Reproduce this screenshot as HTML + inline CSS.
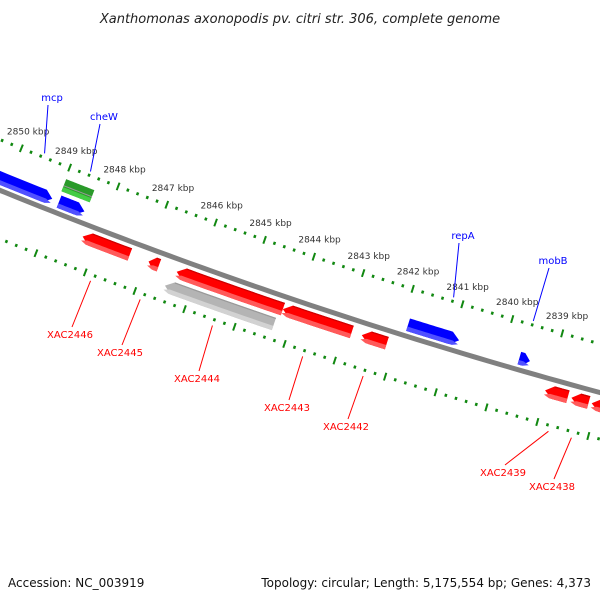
<!DOCTYPE html>
<html><head><meta charset="utf-8"><style>
html,body{margin:0;padding:0;background:#fff;}
svg{display:block;font-family:"DejaVu Sans","Liberation Sans",sans-serif;}
</style></head><body>
<svg id="map" width="600" height="600" viewBox="0 0 600 600" xmlns="http://www.w3.org/2000/svg">
<rect width="600" height="600" fill="#fff"/>
<text x="300" y="23" text-anchor="middle" font-size="13" font-style="italic" fill="#222">Xanthomonas axonopodis pv. citri str. 306, complete genome</text>
<g id="ticks"></g>
<g id="backbone"></g>
<g id="features"></g>
<g id="labels"></g>
<text x="8" y="587" font-size="12" fill="#111">Accession: NC_003919</text>
<text x="591" y="587" text-anchor="end" font-size="12" fill="#111">Topology: circular; Length: 5,175,554 bp; Genes: 4,373</text>
</svg>
<script>
// ---- data (kbp) ----
const featNames  = ["mcp","blue2","cheW","XAC2446","XAC2445","XAC2444","grayfeat","XAC2443","XAC2442","repA","mobB","XAC2439","XAC2438","XACnext"];
const featStarts = [2852.45,2848.95,2848.98,2848.29,2846.95,2846.38,2846.50,2844.24,2842.66,2841.88,2839.66,2839.02,2838.50,2838.10];
const featEnds   = [2849.09,2848.43,2848.40,2847.33,2846.74,2844.24,2844.31,2842.86,2842.16,2840.86,2839.45,2838.57,2838.16,2836.40];
const featTrack  = ["fwd","fwd","green","rev","rev","rev","gray","rev","rev","fwd","fwd","rev","rev","rev"];
const tickLabels = [2850,2849,2848,2847,2846,2845,2844,2843,2842,2841,2840,2839];
const blueLabels = [["mcp",2849.55,52,101],["cheW",2848.6,104,120],["repA",2841.2,463,239],["mobB",2839.6,553,264]];
const redLabels  = [["XAC2446",2847.85,70,338],["XAC2445",2846.85,120,356],["XAC2444",2845.4,197,382],["XAC2443",2843.6,287,411],["XAC2442",2842.4,346,430],["XAC2439",2838.75,503,476],["XAC2438",2838.3,552,490]];
// ---- geometry ----
const CX=1952, CY=-4611, A0=112.08, DPK=0.58;
function ang(kbp){return (A0-(2850-kbp)*DPK)*Math.PI/180;}
function pt(r,kbp){const a=ang(kbp);return [CX+r*Math.cos(a),CY+r*Math.sin(a)];}
const NS="http://www.w3.org/2000/svg";
function mk(tag,attrs,parent){const e=document.createElementNS(NS,tag);for(const k in attrs)e.setAttribute(k,attrs[k]);parent.appendChild(e);return e;}
function arcPts(r,k1,k2,n){const p=[];for(let i=0;i<=n;i++)p.push(pt(r,k1+(k2-k1)*i/n));return p;}
const P=a=>a.map(p=>p[0].toFixed(2)+","+p[1].toFixed(2)).join(" ");

// ticks
const tg=document.getElementById('ticks');
const kMin=2836, kMax=2853;
for(let i=kMin*5;i<=kMax*5;i++){
  const k=i/5, major=(i%5===0);
  [5136,5228].forEach(r=>{
    const len=major?4:1.5;
    const a=pt(r-len,k), b=pt(r+len,k);
    const l=mk('line',{x1:a[0],y1:a[1],x2:b[0],y2:b[1],stroke:'#118811','stroke-width':major?2:2.5},tg);
    
    
  });
}
tickLabels.forEach(k=>{
  const p=pt(5118,k);
  const t=mk('text',{x:p[0],y:p[1]+3,'text-anchor':'middle','font-size':9,fill:'#333'},tg);
  t.textContent=k+" kbp";
  
  
});

// backbone
const bg=document.getElementById('backbone');
const bb=mk('polyline',{points:P(arcPts(5183,2854,2835,80)),fill:'none',stroke:'#808080','stroke-width':5},bg);



// features
const tracks={fwd:[5165,5178,'#0000ff','#5050ff',null],rev:[5189,5202,'#ff0000','#ff5a5a','#cc0000'],
  green:[5148,5161,'#2a9a2a','#44cc44',null],gray:[5206,5219,'#b4b4b4','#d2d2d2','#999']};
const fg=document.getElementById('features');
function shape(r1,r2,s,e,head){
  // arrow pointing toward e
  const dir=e<s?-1:1, len=Math.abs(e-s);
  const h=Math.min(head,len*0.6);
  const eb=e-dir*h;
  const outer=arcPts(r1,s,eb,20), inner=arcPts(r2,eb,s,20);
  return outer.concat([pt((r1+r2)/2,e)]).concat(inner);
}
featNames.forEach((n,i)=>{
  const t=tracks[featTrack[i]];
  const s=featStarts[i], e=featEnds[i];
  let sPt=s, ePt=e;
  if(featTrack[i]==='rev'||featTrack[i]==='gray'){sPt=e;ePt=s;} // points toward higher kbp
  const head=featTrack[i]==='green'?0.0001:0.16;
  const g=mk('g',{},fg);
  
  
  mk('polygon',{points:P(shape(t[0],t[1],sPt,ePt,head)),fill:t[2]},g);
  mk('polygon',{points:P(shape(t[1]-4.5,t[1],sPt,ePt,head*(4.5/6.5))).replace(/NaN/g,'0'),fill:t[3]},g);
  if(t[4]) mk('polyline',{points:P(arcPts(t[0]+0.6,sPt,ePt-(ePt-sPt)*0.0+(sPt>ePt?1:-1)*Math.min(head,Math.abs(e-s)*0.6),10)),fill:'none',stroke:t[4],'stroke-width':1.2},g);
  if(featTrack[i]==='green') mk('polyline',{points:P(arcPts(5155,s,e,10)),fill:'none',stroke:'#999','stroke-width':1},g);
});

// labels
const lg=document.getElementById('labels');
function lab(arr,col,r1,r2){
  arr.forEach(([txt,k,x,y])=>{
    const a=pt(r1,k), b=pt(r2,k);
    const l=mk('line',{x1:a[0],y1:a[1],x2:x+(r1<5183?-4:2),y2:y+(r1<5183?4:-11),stroke:col,'stroke-width':1},lg);
    
    
    const t=mk('text',{x:x,y:y,'text-anchor':'middle','font-size':10,fill:col},lg);
    t.textContent=txt;
    
    
  });
}
lab(blueLabels,'#0000ff',5132,5100);
lab(redLabels,'#ff0000',5234,5270);
</script>
</body></html>
